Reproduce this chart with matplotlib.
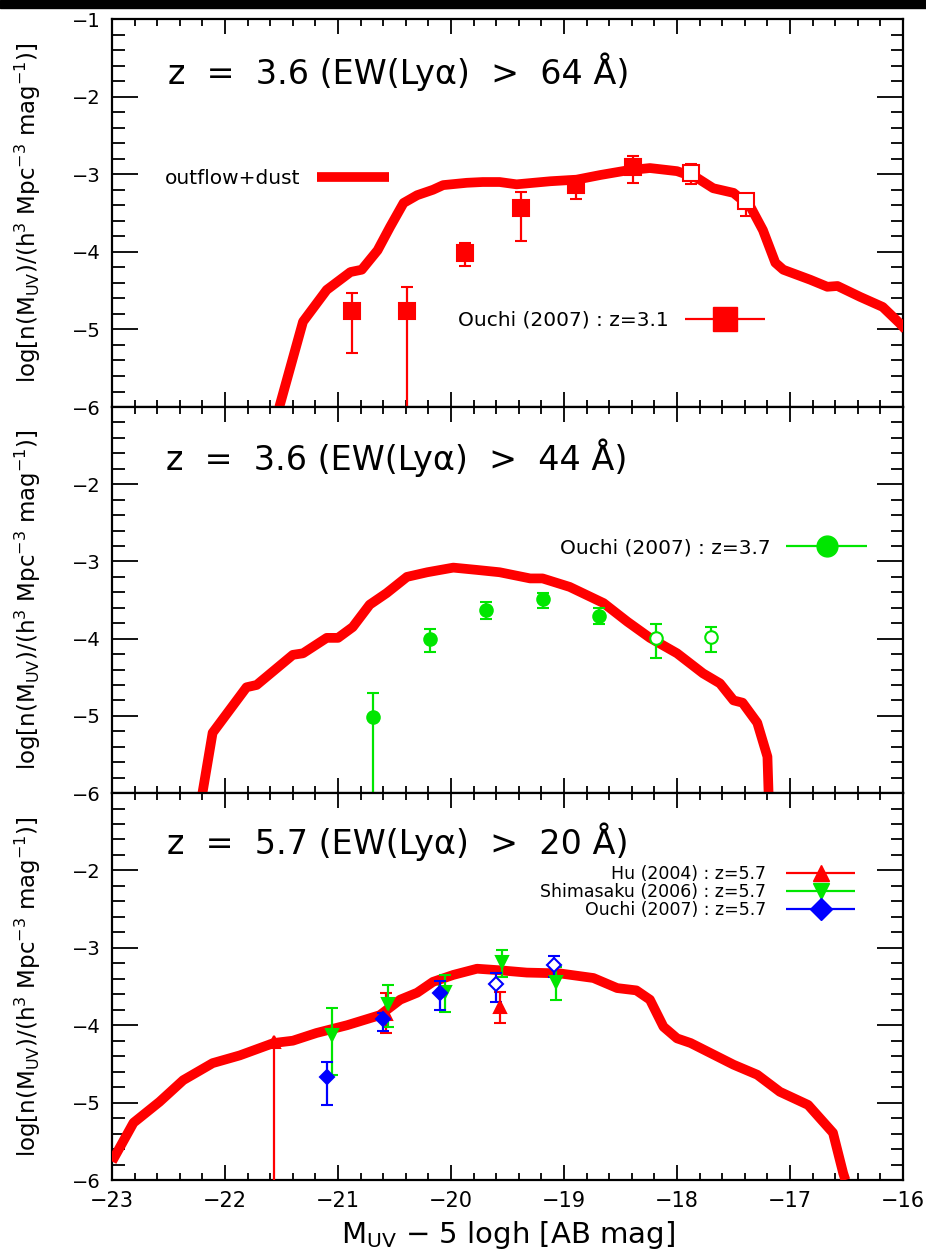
import numpy as np
import matplotlib
matplotlib.use('Agg')
from matplotlib import pyplot as plt
from matplotlib.ticker import MultipleLocator, FixedLocator, FixedFormatter
from matplotlib.container import ErrorbarContainer
from matplotlib.legend_handler import HandlerErrorbar
from matplotlib.patches import Rectangle

plt.rcParams['font.family'] = ['DejaVu Sans']
plt.rcParams['mathtext.fontset'] = 'dejavusans'

RED = '#ff0000'
GREEN = '#00e600'
BLUE = '#0000ff'

# ---- model curves (outflow+dust) ----
m1 = [-21.52, -21.31, -21.10, -20.89, -20.79, -20.65, -20.54, -20.42, -20.30,
      -20.16, -20.07, -19.86, -19.72, -19.57, -19.42, -19.12, -18.89, -18.68,
      -18.44, -18.24, -18.00, -17.82, -17.68, -17.50, -17.35, -17.24, -17.13,
      -17.06, -16.82, -16.67, -16.58, -16.38, -16.18, -16.03, -15.98]
n1 = [-6.00, -4.90, -4.49, -4.26, -4.23, -3.98, -3.68, -3.37, -3.27,
      -3.20, -3.14, -3.11, -3.10, -3.10, -3.13, -3.09, -3.07, -3.01,
      -2.95, -2.92, -2.96, -3.05, -3.18, -3.24, -3.42, -3.72, -4.14,
      -4.23, -4.36, -4.45, -4.44, -4.58, -4.71, -4.92, -5.00]

m2 = [-22.20, -22.11, -21.81, -21.72, -21.40, -21.31, -21.10, -21.00, -20.87,
      -20.72, -20.57, -20.39, -20.21, -19.98, -19.77, -19.57, -19.30, -19.19,
      -18.95, -18.65, -18.44, -18.24, -18.00, -17.77, -17.62, -17.50, -17.42,
      -17.29, -17.20, -17.19]
n2 = [-6.00, -5.22, -4.63, -4.60, -4.21, -4.19, -3.99, -3.99, -3.85,
      -3.56, -3.41, -3.20, -3.14, -3.08, -3.11, -3.14, -3.22, -3.22,
      -3.33, -3.54, -3.78, -3.99, -4.19, -4.45, -4.58, -4.80, -4.83,
      -5.09, -5.53, -6.00]

m3 = [-23.00, -22.81, -22.58, -22.37, -22.11, -21.87, -21.57, -21.40, -21.19,
      -20.92, -20.63, -20.45, -20.30, -20.16, -19.98, -19.77, -19.57, -19.33,
      -19.04, -18.74, -18.53, -18.36, -18.24, -18.12, -18.00, -17.88, -17.50,
      -17.29, -17.09, -16.84, -16.62, -16.53, -16.51]
n3 = [-5.76, -5.26, -4.99, -4.71, -4.49, -4.39, -4.23, -4.20, -4.10,
      -4.00, -3.87, -3.67, -3.58, -3.44, -3.35, -3.27, -3.29, -3.32,
      -3.33, -3.39, -3.52, -3.55, -3.67, -4.02, -4.17, -4.23, -4.51,
      -4.64, -4.86, -5.03, -5.39, -5.91, -6.00]

# ---- Ouchi (2007) z=3.1 ----
o31_m = [-20.88, -20.39, -19.88, -19.38, -18.89, -18.39]
o31_n = [-4.76, -4.76, -4.02, -3.44, -3.14, -2.91]
o31_lo = [-5.30, -7.00, -4.18, -3.86, -3.32, -3.11]
o31_hi = [-4.53, -4.45, -3.89, -3.23, -3.05, -2.77]
o31o_m = [-17.88, -17.39]
o31o_n = [-2.99, -3.35]
o31o_lo = [-3.13, -3.54]
o31o_hi = [-2.87, -3.25]

# ---- Ouchi (2007) z=3.7 ----
o37_m = [-20.69, -20.19, -19.69, -19.19, -18.69]
o37_n = [-5.02, -4.01, -3.63, -3.49, -3.71]
o37_lo = [-7.00, -4.17, -3.74, -3.60, -3.81]
o37_hi = [-4.70, -3.88, -3.53, -3.41, -3.60]
o37o_m = [-18.19, -17.70]
o37o_n = [-3.99, -3.98]
o37o_lo = [-4.25, -4.17]
o37o_hi = [-3.81, -3.85]

# ---- z=5.7 data ----
hu_m = [-21.57, -20.58, -19.57]
hu_n = [-4.22, -3.85, -3.76]
hu_lo = [-7.00, -4.10, -3.97]
hu_hi = [-4.20, -3.58, -3.57]

sh_m = [-21.05, -20.56, -20.05, -19.55, -19.07]
sh_n = [-4.13, -3.72, -3.57, -3.18, -3.44]
sh_lo = [-4.64, -4.02, -3.83, -3.38, -3.67]
sh_hi = [-3.78, -3.48, -3.35, -3.03, -3.25]

o57_m = [-21.10, -20.60, -20.10]
o57_n = [-4.67, -3.92, -3.58]
o57_lo = [-5.03, -4.07, -3.80]
o57_hi = [-4.48, -3.84, -3.43]
o57o_m = [-19.60, -19.09]
o57o_n = [-3.47, -3.22]
o57o_lo = [-3.70, -3.38]
o57o_hi = [-3.33, -3.11]

titles = [u'z  =  3.6 (EW(Ly\u03b1)  >  64 \u00c5)',
          u'z  =  3.6 (EW(Ly\u03b1)  >  44 \u00c5)',
          u'z  =  5.7 (EW(Ly\u03b1)  >  20 \u00c5)']
ylabel = r'log[n(M$_{\rm UV}$)/(h$^{3}$ Mpc$^{-3}$ mag$^{-1}$)]'
xlabel = r'M$_{\rm UV}$ $-$ 5 logh [AB mag]'


def errs(n, lo, hi):
    n, lo, hi = map(np.asarray, (n, lo, hi))
    return [n - lo, hi - n]


def points(ax, m, n, lo, hi, color, marker, ms, open_=False):
    ax.errorbar(m, n, yerr=errs(n, lo, hi), fmt=marker, color=color, ms=ms,
                mfc='white' if open_ else color, mec=color, mew=1.5,
                elinewidth=1.6, capsize=4.5, capthick=1.6, zorder=4)


def proxy(ax, color, marker, ms):
    return ax.errorbar([], [], xerr=[], fmt=marker, color=color, ms=ms,
                       elinewidth=1.6, capsize=4.5, capthick=1.6)


def style(ax, labels):
    ax.set_xlim(-23, -16)
    ax.set_ylim(-6, -1)
    ax.xaxis.set_major_locator(MultipleLocator(1))
    ax.xaxis.set_minor_locator(MultipleLocator(0.2))
    ax.yaxis.set_major_locator(FixedLocator([-6, -5, -4, -3, -2, -1]))
    ax.yaxis.set_major_formatter(FixedFormatter(labels))
    ax.yaxis.set_minor_locator(MultipleLocator(0.2))
    ax.tick_params(axis='both', which='both', direction='in',
                   top=True, right=True, width=1.3, colors='black')
    ax.tick_params(axis='x', which='major', length=11, labelsize=15, pad=8)
    ax.tick_params(axis='x', which='minor', length=5)
    ax.tick_params(axis='y', which='major', length=19, labelsize=14, pad=8)
    ax.tick_params(axis='y', which='minor', length=9)
    for s in ax.spines.values():
        s.set_linewidth(1.6)
    ax.set_ylabel(ylabel, fontsize=16.5)
    ax.yaxis.set_label_coords(-0.087, 0.5)


def main():
    fig = plt.figure(figsize=(9.26, 12.54), dpi=100)
    left, width = 0.1210, 0.8542
    ax1 = fig.add_axes([left, 0.6754, width, 0.3094])
    ax2 = fig.add_axes([left, 0.3676, width, 0.3078], sharex=ax1)
    ax3 = fig.add_axes([left, 0.0590, width, 0.3086], sharex=ax1)

    hmap = {ErrorbarContainer: HandlerErrorbar(xerr_size=2.0)}
    full = ['\u22126', '\u22125', '\u22124', '\u22123', '\u22122', '\u22121']
    part = full[:5] + ['']
    lfs = 14.5
    tfs = 24

    # top panel
    style(ax1, full)
    line, = ax1.plot(m1, n1, color=RED, lw=7, solid_joinstyle='round',
                     solid_capstyle='butt', zorder=3)
    points(ax1, o31_m, o31_n, o31_lo, o31_hi, RED, 's', 11)
    points(ax1, o31o_m, o31o_n, o31o_lo, o31o_hi, RED, 's', 11, open_=True)
    leg = ax1.legend([line], ['outflow+dust'], loc='center left',
                     bbox_to_anchor=(0.067, 0.588), frameon=False,
                     markerfirst=False, fontsize=lfs, handlelength=3.6,
                     handletextpad=0.8, borderpad=0, borderaxespad=0)
    ax1.add_artist(leg)
    p = proxy(ax1, RED, 's', 17)
    ax1.legend([p], ['Ouchi (2007) : z=3.1'], loc='center right',
               bbox_to_anchor=(0.826, 0.224), frameon=False, markerfirst=False,
               fontsize=lfs, handlelength=4.0, handletextpad=0.8, borderpad=0,
               borderaxespad=0, handler_map=hmap)
    ax1.text(0.071, 0.865, titles[0], transform=ax1.transAxes, fontsize=tfs,
             ha='left', va='center')
    plt.setp(ax1.get_xticklabels(), visible=False)

    # middle panel
    style(ax2, part)
    ax2.plot(m2, n2, color=RED, lw=7, solid_joinstyle='round',
             solid_capstyle='butt', zorder=3)
    points(ax2, o37_m, o37_n, o37_lo, o37_hi, GREEN, 'o', 9)
    points(ax2, o37o_m, o37o_n, o37o_lo, o37o_hi, GREEN, 'o', 9, open_=True)
    p = proxy(ax2, GREEN, 'o', 15)
    ax2.legend([p], ['Ouchi (2007) : z=3.7'], loc='center right',
               bbox_to_anchor=(0.9545, 0.635), frameon=False, markerfirst=False,
               fontsize=lfs, handlelength=4.0, handletextpad=0.8, borderpad=0,
               borderaxespad=0, handler_map=hmap)
    ax2.text(0.068, 0.870, titles[1], transform=ax2.transAxes, fontsize=tfs,
             ha='left', va='center')
    plt.setp(ax2.get_xticklabels(), visible=False)

    # bottom panel
    style(ax3, part)
    ax3.plot(m3, n3, color=RED, lw=7, solid_joinstyle='round',
             solid_capstyle='butt', zorder=3)
    points(ax3, hu_m, hu_n, hu_lo, hu_hi, RED, '^', 8)
    points(ax3, sh_m, sh_n, sh_lo, sh_hi, GREEN, 'v', 8)
    points(ax3, o57_m, o57_n, o57_lo, o57_hi, BLUE, 'D', 7)
    points(ax3, o57o_m, o57o_n, o57o_lo, o57o_hi, BLUE, 'D', 7, open_=True)
    handles = [proxy(ax3, RED, '^', 12), proxy(ax3, GREEN, 'v', 12),
               proxy(ax3, BLUE, 'D', 11)]
    ax3.legend(handles, ['Hu (2004) : z=5.7', 'Shimasaku (2006) : z=5.7',
                         'Ouchi (2007) : z=5.7'],
               loc='center right', bbox_to_anchor=(0.942, 0.744),
               frameon=False, markerfirst=False, fontsize=12.5,
               handlelength=4.2, handletextpad=1.05, labelspacing=0.0,
               borderpad=0, borderaxespad=0, handler_map=hmap)
    ax3.text(0.069, 0.873, titles[2], transform=ax3.transAxes, fontsize=tfs,
             ha='left', va='center')
    ax3.set_xticks([-23, -22, -21, -20, -19, -18, -17, -16])
    ax3.set_xticklabels(['\u221223', '\u221222', '\u221221', '\u221220',
                         '\u221219', '\u221218', '\u221217', '\u221216'])
    ax3.set_xlabel(xlabel, fontsize=21, labelpad=6)

    fig.add_artist(Rectangle((0, 1 - 8 / 1254), 1, 8 / 1254,
                             transform=fig.transFigure, color='black',
                             zorder=10))
    fig.savefig('out.png', dpi=100)


if __name__ == '__main__':
    main()
